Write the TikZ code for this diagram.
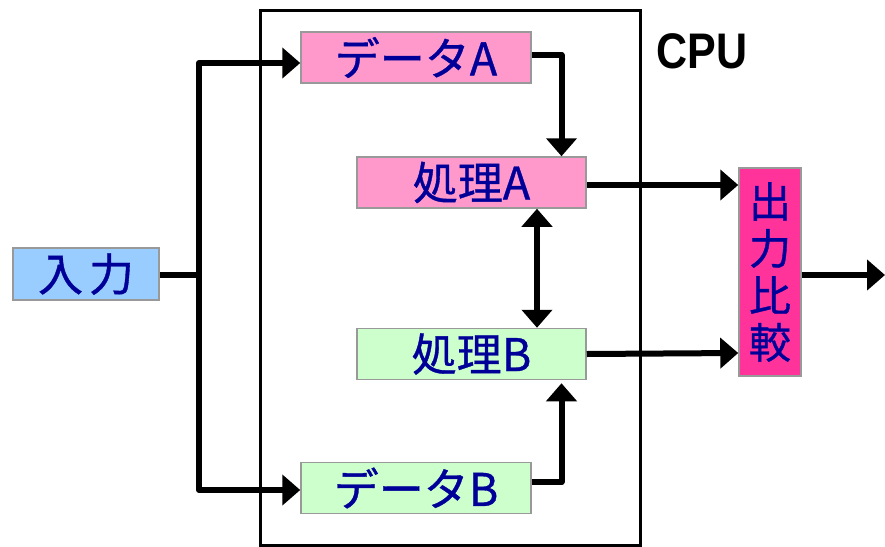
\documentclass[tikz,border=0pt]{standalone}
\usepackage{fontspec}
\setmainfont{Liberation Sans}
\newfontfamily\jp[FakeBold=0.8]{Noto Sans CJK JP}
\usetikzlibrary{arrows.meta}
\definecolor{txtblue}{HTML}{000099}
\definecolor{pinkA}{HTML}{FF99CC}
\definecolor{greenB}{HTML}{CCFFCC}
\definecolor{blueIn}{HTML}{99CCFF}
\definecolor{magOut}{HTML}{FF3399}
\definecolor{edgegray}{HTML}{999999}
\tikzset{
  box/.style={draw=edgegray, line width=1.5pt, inner sep=0pt, text=txtblue,
    font=\jp\fontsize{45}{46}\selectfont},
  arr/.style={line width=6pt, line join=round,
    -{Triangle[length=18pt,width=30pt]}},
  dblarr/.style={line width=6pt,
    {Triangle[length=18pt,width=30pt]}-{Triangle[length=18pt,width=30pt]}},
  plain/.style={line width=6pt, line join=round},
}
\begin{document}
\begin{tikzpicture}[x=1pt,y=-1pt]
\useasboundingbox (0,0) rectangle (885,546);
% CPU frame
\draw[line width=3pt] (260,10) rectangle (640,545);
\node[font=\bfseries\fontsize{50}{50}\selectfont, inner sep=0pt] (cpu) at (702,51) {\scalebox{0.86}[1]{CPU}};
% boxes
\node[box, fill=pinkA, minimum width=230pt, minimum height=51pt] (dA) at (416,57.5) {\raisebox{-7pt}{データA}};
\node[box, fill=pinkA, minimum width=229pt, minimum height=51pt] (pA) at (471.5,182.5) {\raisebox{-7pt}{処理A}};
\node[box, fill=greenB, minimum width=229pt, minimum height=51pt] (pB) at (471.5,354) {\raisebox{-7pt}{処理B}};
\node[box, fill=greenB, minimum width=230pt, minimum height=51pt] (dB) at (416,488) {\raisebox{-7pt}{データB}};
\node[box, fill=blueIn, minimum width=146pt, minimum height=52pt] (in) at (86,274) {\raisebox{-4pt}{入\hspace{6pt}力}};
\node[box, fill=magOut, minimum width=62pt, minimum height=208pt, align=center,
  font=\jp\fontsize{42}{47}\selectfont] (out) at (770,272) {出\\力\\比\\較};
% connectors
\coordinate (j) at (199,275);
\coordinate (outend) at (885,275);
\draw[plain] (in.east |- j) -- (j);
\draw[arr] (j) |- ([yshift=-5.5pt]dA.west);
\draw[arr] (j) |- ([yshift=-2pt]dB.west);
\draw[arr] ([yshift=2.5pt]dA.east) -| ([xshift=90pt]pA.north);
\draw[arr] ([yshift=6pt]dB.east) -| ([xshift=90pt,yshift=-3pt]pB.south);
\draw[dblarr] ([xshift=65.5pt]pA.south) -- ([xshift=65.5pt]pB.north);
\draw[arr] ([yshift=-2.5pt]pA.east) -- (out.west |- {0,185});
\draw[arr] (pB.east) -- (out.west |- {0,353});
\draw[arr] (out.east |- outend) -- (outend);
\end{tikzpicture}
\end{document}
